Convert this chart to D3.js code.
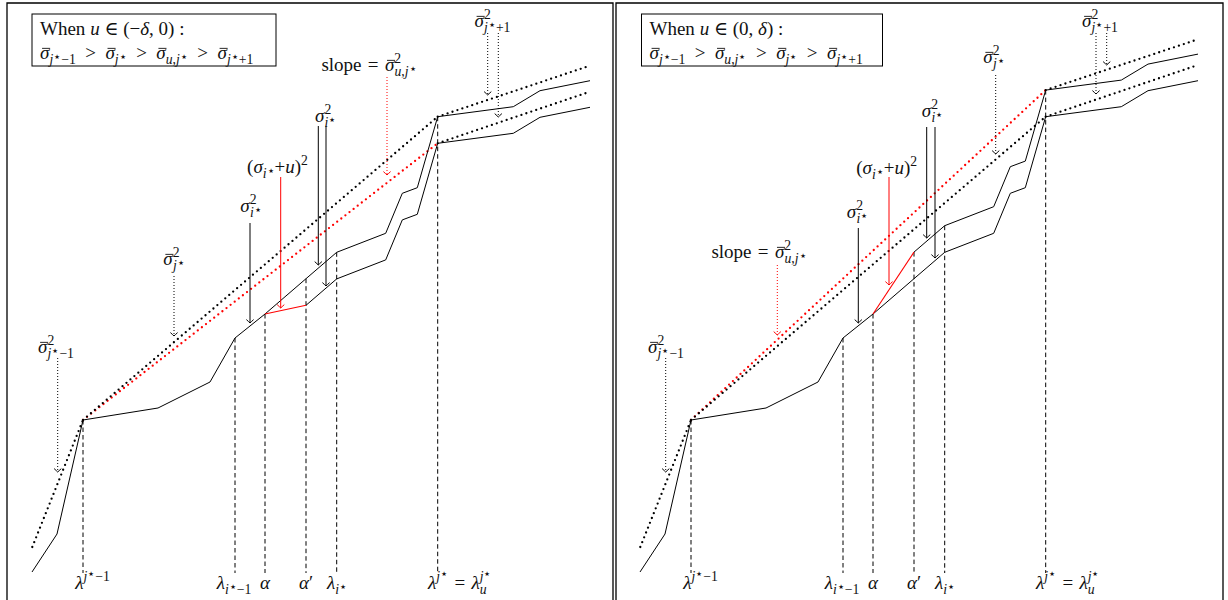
<!DOCTYPE html>
<html><head><meta charset="utf-8">
<script src="https://cdn.jsdelivr.net/npm/d3@7"></script>
<style>body{margin:0;background:#fff} svg{display:block}</style>
</head><body><svg id="c" width="1228" height="600"></svg>
<script>
// ---------- data (chart units: x = eigenvalue index axis, y = cumulative value) ----------
const baseX = [32, 57, 83, 158, 210, 235, 265, 306, 336.7, 385.7, 402.3, 417.3, 437.7, 513.3, 540, 590];
const baseY = [28, 66, 180, 192, 218, 262, 286, 321.3, 347.7, 366.7, 406.7, 412.3, 483.3, 493.3, 509.3, 519.3];
const pertX = [265, 306, 336.7, 385.7, 402.3, 417.3, 437.7, 513.3, 540, 590];
const pertNegY = [286, 294.7, 321.1, 340.1, 380.1, 385.7, 456.7, 466.7, 482.7, 492.7];
const pertPosY = [286, 347.9, 374.3, 393.3, 433.3, 438.9, 509.9, 519.9, 535.9, 545.9];
const leadX = [32.3, 83], leadY = [53, 180];
const chordX = [83, 437.7];
const chordJY = [180, 483.3];
const chordUNegY = [180, 456.7];
const chordUPosY = [180, 509.9];
const tailX = [437.7, 590];
const tailNegY = [[483.3, 534.3], [456.7, 508.3]];
const tailPosY = [[509.9, 560.7], [483.3, 535]];
const markX = [83, 235, 265, 306, 336.7, 437.7];
const markBottom = 27;
const markLabelY = 11;

// annotation arrows: [x, fromY, toY, style, color]
const arrowsNeg = [
  [57.7, 242, 128, 'dot', 'k'], [174, 324, 264, 'dot', 'k'], [387, 523, 425, 'dot', 'r'],
  [487.7, 567, 505, 'dot', 'k'], [498.3, 567, 483, 'dot', 'k'],
  [250, 377, 277, 'solid', 'k'], [280.7, 423, 292, 'solid', 'r'],
  [318.3, 474, 335, 'solid', 'k'], [326, 474, 314, 'solid', 'k']
];
const arrowsPos = [
  [57.7, 242, 128, 'dot', 'k'], [169.3, 335, 265, 'dot', 'r'],
  [250.3, 372, 277, 'solid', 'k'], [281, 423, 315, 'solid', 'r'],
  [318.7, 473, 362, 'solid', 'k'], [327, 473, 342, 'solid', 'k'],
  [387.7, 525, 446, 'dot', 'k'], [488, 567, 506, 'dot', 'k'], [498.7, 567, 535, 'dot', 'k']
];

// math tokens ('ib' = italic with bar accent)
const STAR = '\u22C6';
const sigBarSq = sub => [['\u03C3','ib'],['2','sup'],-0.35].concat(sub);
const jStar = [['j','subi'],[STAR,'subst']];
const L_jm1 = sigBarSq([['j','subi'],[STAR,'subst'],['\u22121','sub']]);
const L_j = sigBarSq(jStar);
const L_jp1 = sigBarSq([['j','subi'],[STAR,'subst'],['+1','sub']]);
const L_slope = [['slope\u2004=\u2004','r']].concat(sigBarSq([['u','subi'],[',','sub'],['j','subi'],[STAR,'subst']]));
const L_sigi = [['\u03C3','i'],['2','sup'],-0.35,['i','subi'],[STAR,'subst']];
const L_sigu = [['(','r'],['\u03C3','i'],['i','subi'],[STAR,'subst'],['+','r'],['u','i'],[')','r'],['2','sup']];

// labels: [x, y, tokens]
const labelsNeg = [
  [56, 247, L_jm1], [174, 335, L_j], [369, 529, L_slope], [492.5, 573, L_jp1],
  [251, 388, L_sigi], [277.5, 427, L_sigu], [325.7, 478, L_sigi]
];
const labelsPos = [
  [58, 247, L_jm1], [151, 342, L_slope], [249.5, 382, L_sigi], [278.7, 426, L_sigu],
  [324.5, 483, L_sigi], [386, 537, L_j], [492, 573, L_jp1]
];
const markLabels = [
  [[['\u03BB','i'],['j','supi'],[STAR,'supst'],['\u22121','sup']], 92.5, 'middle'],
  [[['\u03BB','i'],['i','subi'],[STAR,'subst'],['\u22121','sub']], 234, 'middle'],
  [[['\u03B1','i']], 265, 'middle'],
  [[['\u03B1','i'],['\u2032','r']], 306, 'middle'],
  [[['\u03BB','i'],['i','subi'],[STAR,'subst']], 337, 'middle'],
  [[['\u03BB','i'],['j','supi'],[STAR,'supst'],['\u2004=\u2004','r'],['\u03BB','i'],['u','subi'],-0.36,['j','supi'],[STAR,'supst']], 428, 'start']
];
const boxLine1Neg = [['When ','r'],['u','i'],[' \u2208 (\u2212','r'],['\u03B4','i'],[', 0) :','r']];
const boxLine1Pos = [['When ','r'],['u','i'],[' \u2208 (0, ','r'],['\u03B4','i'],[') :','r']];
const sb = (k) => [['\u03C3','ib']].concat(k);
const S_jm1 = sb([['j','subi'],[STAR,'subst'],['\u22121','sub']]);
const S_j = sb(jStar);
const S_u = sb([['u','subi'],[',','sub'],['j','subi'],[STAR,'subst']]);
const S_jp1 = sb([['j','subi'],[STAR,'subst'],['+1','sub']]);
const GT = [['\u2002>\u2002','r']];
const boxLine2Neg = [].concat(S_jm1, GT, S_j, GT, S_u, GT, S_jp1);
const boxLine2Pos = [].concat(S_jm1, GT, S_u, GT, S_j, GT, S_jp1);

// ---------- drawing ----------
const FS = 19;
const FONT = "'Liberation Serif','DejaVu Serif',serif";
const RED = '#ff0000';
const KIND = {
  r:{o:0,s:1,i:false}, i:{o:0,s:1,i:true}, ib:{o:0,s:1,i:true,bar:true},
  sup:{o:-0.4,s:0.72,i:false}, supi:{o:-0.4,s:0.72,i:true}, supst:{o:-0.58,s:0.7,i:false},
  sub:{o:0.25,s:0.72,i:false}, subi:{o:0.25,s:0.72,i:true}, subst:{o:0.08,s:0.7,i:false}
};
function mathText(g, x, y, toks, anchor) {
  const t = g.append('text').attr('x', x).attr('y', y).attr('text-anchor', anchor || 'middle')
    .attr('font-family', FONT).attr('font-size', FS).attr('fill', '#111');
  let cur = 0, pend = 0, idx = 0;
  const bars = [];
  toks.forEach(tk => {
    if (typeof tk === 'number') { pend += tk * FS; return; }
    const K = KIND[tk[1]];
    const o = K.o * FS;
    const sp = t.append('tspan').text(tk[0]).attr('font-size', K.s * FS).attr('dy', o - cur);
    if (pend) sp.attr('dx', pend);
    if (K.i) sp.attr('font-style', 'italic');
    if (K.bar) bars.push(idx);
    idx += tk[0].length;
    cur = o; pend = 0;
  });
  bars.forEach(i => {
    const e = t.node().getExtentOfChar(i);
    const yb = y - 0.56 * FS;
    g.append('line').attr('x1', e.x + 0.22 * e.width).attr('x2', e.x + e.width * 1.08)
      .attr('y1', yb).attr('y2', yb).attr('stroke', '#111').attr('stroke-width', 0.9);
  });
  return t;
}

const svg = d3.select('#c');
svg.append('rect').attr('width', 1228).attr('height', 600).attr('fill', '#fff');
const y = d3.scaleLinear().domain([0, 600]).range([600, 0]);

const panels = [
  {off: 0, pertY: pertNegY, chordU: chordUNegY, tails: tailNegY, arrows: arrowsNeg, labels: labelsNeg,
   l1: boxLine1Neg, l2: boxLine2Neg, bx: [7, 613], boxW: 244},
  {off: 608, pertY: pertPosY, chordU: chordUPosY, tails: tailPosY, arrows: arrowsPos, labels: labelsPos,
   l1: boxLine1Pos, l2: boxLine2Pos, bx: [616, 1223], boxW: 241}
];

panels.forEach((p, pi) => {
  const x = d3.scaleLinear().domain([0, 600]).range([p.off, p.off + 600]);
  const g = svg.append('g');
  const line = d3.line().x(d => x(d[0])).y(d => y(d[1]));
  const dotted = sel => sel.attr('fill', 'none').attr('stroke-width', 2.3).attr('stroke-linecap', 'round').attr('stroke-dasharray', '0,5.2');

  // frame
  g.append('path').attr('d', `M${p.bx[0]},605 V3 H${p.bx[1]} V605`).attr('fill', 'none').attr('stroke', '#000').attr('stroke-width', 1.3);

  // dashed markers
  markX.forEach(mx => {
    const bi = baseX.indexOf(mx), pIdx = pertX.indexOf(mx);
    let top = baseY[bi];
    if (pIdx >= 0) top = Math.max(top, p.pertY[pIdx]);
    g.append('line').attr('x1', x(mx)).attr('x2', x(mx)).attr('y1', y(top)).attr('y2', y(markBottom))
      .attr('stroke', '#000').attr('stroke-width', 1).attr('stroke-dasharray', '4.5,3');
  });

  // dotted chords
  g.append('path').attr('d', line(d3.zip(leadX, leadY))).attr('stroke', '#000').call(dotted);
  g.append('path').attr('d', line(d3.zip(chordX, p.chordU))).attr('stroke', RED).call(dotted);
  g.append('path').attr('d', line(d3.zip(chordX, chordJY))).attr('stroke', '#000').call(dotted);
  p.tails.forEach(t => g.append('path').attr('d', line(d3.zip(tailX, t))).attr('stroke', '#000').call(dotted));

  // solid curves
  g.append('path').attr('d', line(d3.zip(baseX, baseY))).attr('fill', 'none').attr('stroke', '#000').attr('stroke-width', 1);
  g.append('path').attr('d', line(d3.zip(pertX.slice(1), p.pertY.slice(1)))).attr('fill', 'none').attr('stroke', '#000').attr('stroke-width', 1);
  g.append('path').attr('d', line(d3.zip(pertX.slice(0, 2), p.pertY.slice(0, 2)))).attr('fill', 'none').attr('stroke', RED).attr('stroke-width', 1.1);

  // annotation arrows
  p.arrows.forEach(a => {
    const col = a[4] === 'r' ? RED : '#000';
    const ax = x(a[0]), y1 = y(a[1]), y2 = y(a[2]);
    const ln = g.append('line').attr('x1', ax).attr('x2', ax).attr('y1', y1).attr('y2', y2)
      .attr('stroke', col).attr('stroke-width', 1);
    if (a[3] === 'dot') ln.attr('stroke-dasharray', '1,2');
    g.append('path').attr('d', `M${ax - 3.6},${y2 - 3.4} Q${ax - 1},${y2 - 1} ${ax},${y2} Q${ax + 1},${y2 - 1} ${ax + 3.6},${y2 - 3.4}`)
      .attr('fill', 'none').attr('stroke', col).attr('stroke-width', 1);
  });

  // labels
  p.labels.forEach(l => mathText(g, x(l[0]), y(l[1]), l[2], 'middle'));
  markLabels.forEach(m => mathText(g, x(m[1]), y(markLabelY), m[0], m[2]));

  // box
  const bx0 = x(32) + (pi ? 1.5 : 0);
  g.append('rect').attr('x', bx0).attr('y', 14).attr('width', p.boxW).attr('height', 52)
    .attr('fill', '#fff').attr('stroke', '#000').attr('stroke-width', 1);
  mathText(g, bx0 + 8, 35, p.l1, 'start');
  mathText(g, bx0 + 8, 59, p.l2, 'start');
});
</script></body></html>
